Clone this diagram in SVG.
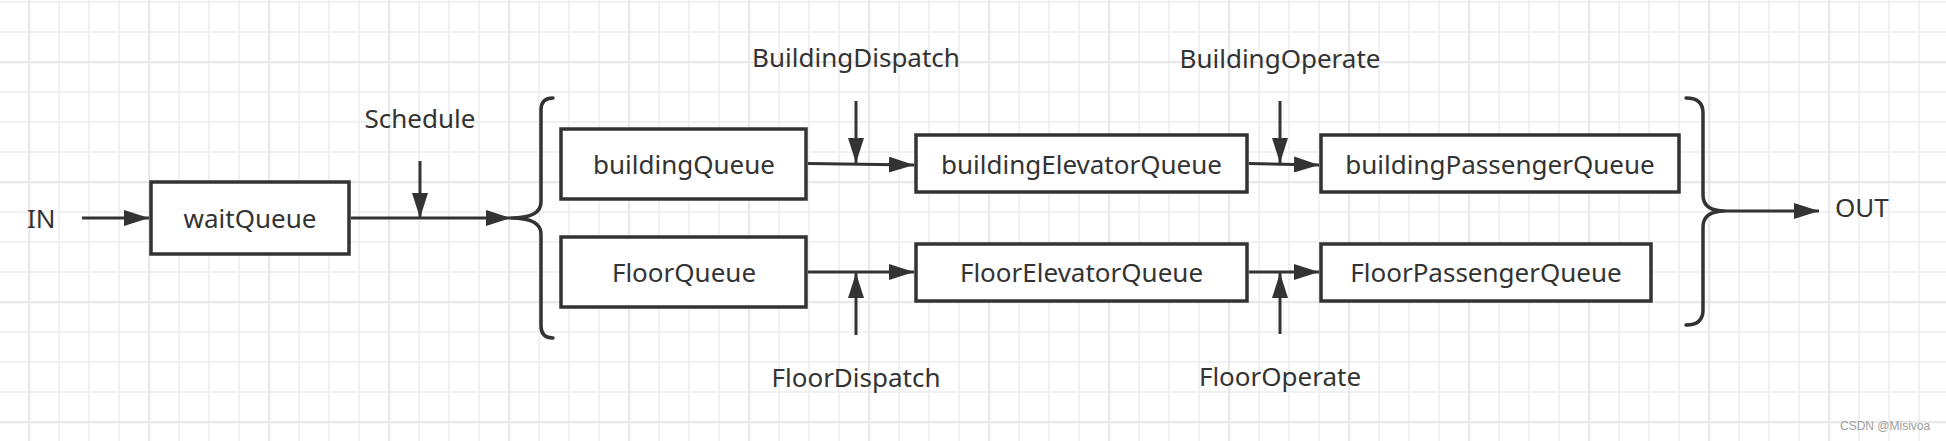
<svg xmlns="http://www.w3.org/2000/svg" width="1946" height="441" viewBox="0 0 1946 441">
  <defs>
    <pattern id="minor" patternUnits="userSpaceOnUse" x="28" y="1" width="30" height="30">
      <path d="M1,0 V30 M0,1 H30" stroke="#f1f1f1" stroke-width="2" fill="none"/>
    </pattern>
    <pattern id="major" patternUnits="userSpaceOnUse" x="28" y="61" width="120" height="120">
      <path d="M1,0 V120 M0,1 H120" stroke="#e8e8e8" stroke-width="2.5" fill="none"/>
    </pattern>
    <marker id="arrow" viewBox="0 0 25 16" refX="25" refY="8" markerWidth="25" markerHeight="16" markerUnits="userSpaceOnUse" orient="auto">
      <path d="M0,0 L25,8 L0,16 z" fill="#333333"/>
    </marker>
    <style>
      .box { fill: #ffffff; stroke: #333333; stroke-width: 3.5; }
      .lbl { font-family: "Noto Sans", "Open Sans", "DejaVu Sans", sans-serif; font-size: 26px; fill: #333333; }
      .mid { text-anchor: middle; }
      .conn { stroke: #333333; stroke-width: 3; fill: none; marker-end: url(#arrow); }
      .brace { stroke: #333333; stroke-width: 3.5; fill: none; stroke-linecap: round; }
      .wm { font-family: "Liberation Sans", Arial, sans-serif; font-size: 12px; fill: #a0a0a0; }
    </style>
  </defs>

  <rect width="1946" height="441" fill="#ffffff"/>
  <rect width="1946" height="441" fill="url(#minor)"/>
  <rect width="1946" height="441" fill="url(#major)"/>

  <g id="connectors">
    <path class="conn" d="M82,218 L149,218"/>
    <path class="conn" d="M351,218 L511,218"/>
    <path class="conn" d="M420,161 L420,218"/>
    <path class="conn" d="M808,163.5 L914,165"/>
    <path class="conn" d="M856,101 L856,163"/>
    <path class="conn" d="M808,272 L914,272"/>
    <path class="conn" d="M856,335 L856,273"/>
    <path class="conn" d="M1249,163.5 L1319,165"/>
    <path class="conn" d="M1280,101 L1280,163"/>
    <path class="conn" d="M1249,272 L1319,272"/>
    <path class="conn" d="M1280,334 L1280,273"/>
    <path class="conn" d="M1725,211 L1819,211"/>
  </g>

  <g id="brace-left">
    <path class="brace" d="M553,98 Q541,98 541,110 L541,202 Q541,218 511,218 Q541,218 541,234 L541,326 Q541,338 553,338"/>
  </g>
  <g id="brace-right">
    <path class="brace" d="M1686,98 Q1703,98 1703,113 L1703,195 Q1703,211 1725,211 Q1703,211 1703,227 L1703,310 Q1703,325 1686,325"/>
  </g>

  <g id="in"><text class="lbl" x="27" y="228">IN</text></g>
  <g id="out"><text class="lbl" x="1835" y="217">OUT</text></g>

  <g id="waitQueue">
    <rect class="box" x="151" y="182" width="198" height="72"/>
    <text class="lbl mid" x="250" y="228">waitQueue</text>
  </g>
  <g id="buildingQueue">
    <rect class="box" x="561" y="129" width="245" height="70"/>
    <text class="lbl mid" x="684" y="174">buildingQueue</text>
  </g>
  <g id="FloorQueue">
    <rect class="box" x="561" y="237" width="245" height="70"/>
    <text class="lbl mid" x="684" y="282">FloorQueue</text>
  </g>
  <g id="buildingElevatorQueue">
    <rect class="box" x="916" y="135" width="331" height="57"/>
    <text class="lbl mid" x="1081.5" y="174">buildingElevatorQueue</text>
  </g>
  <g id="FloorElevatorQueue">
    <rect class="box" x="916" y="244" width="331" height="57"/>
    <text class="lbl mid" x="1081.5" y="282">FloorElevatorQueue</text>
  </g>
  <g id="buildingPassengerQueue">
    <rect class="box" x="1321" y="135" width="358" height="57"/>
    <text class="lbl mid" x="1500" y="174">buildingPassengerQueue</text>
  </g>
  <g id="FloorPassengerQueue">
    <rect class="box" x="1321" y="244" width="330" height="57"/>
    <text class="lbl mid" x="1486" y="282">FloorPassengerQueue</text>
  </g>

  <g id="Schedule"><text class="lbl mid" x="420" y="128">Schedule</text></g>
  <g id="BuildingDispatch"><text class="lbl mid" x="856" y="67">BuildingDispatch</text></g>
  <g id="FloorDispatch"><text class="lbl mid" x="856" y="387">FloorDispatch</text></g>
  <g id="BuildingOperate"><text class="lbl mid" x="1280" y="68">BuildingOperate</text></g>
  <g id="FloorOperate"><text class="lbl mid" x="1280" y="386">FloorOperate</text></g>

  <text class="wm" x="1840" y="430">CSDN @Misivoa</text>
</svg>
